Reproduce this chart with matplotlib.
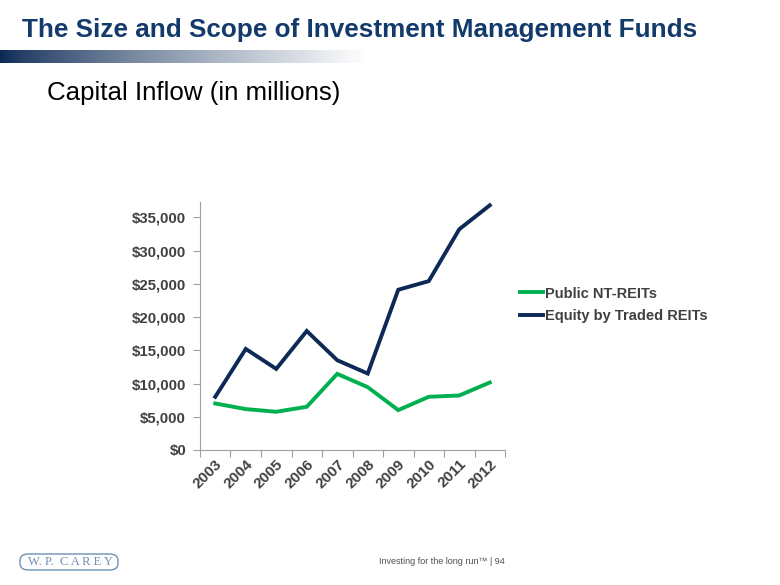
import numpy as np
import matplotlib.pyplot as plt
from matplotlib.patches import FancyBboxPatch

years = ["2003", "2004", "2005", "2006", "2007", "2008", "2009", "2010", "2011", "2012"]
nt_reits = [7000, 6150, 5750, 6500, 11450, 9450, 6000, 8000, 8200, 10150]
traded_reits = [8000, 15200, 12200, 17900, 13500, 11500, 24100, 25400, 33200, 36800]
yticks = [0, 5000, 10000, 15000, 20000, 25000, 30000, 35000]

green = "#00B050"
navy = "#0C2A55"
gray = "#404040"

plt.rcParams["font.family"] = ["Liberation Sans", "DejaVu Sans"]
fig = plt.figure(figsize=(7.8, 5.85), dpi=100)

# header gradient bar
bar = fig.add_axes([0, 1 - 63 / 585, 1, 13 / 585])
grad = np.linspace(0, 1, 256)
cols = np.zeros((1, 256, 3))
c0 = np.array([0x0C, 0x2A, 0x55]) / 255
for i, t in enumerate(grad):
    k = min(t / 0.47, 1.0) ** 0.8
    cols[0, i] = c0 * (1 - k) + np.ones(3) * k
bar.imshow(cols, aspect="auto", extent=[0, 1, 0, 1])
bar.axis("off")

fig.text(22 / 780, 1 - 30 / 585, "The Size and Scope of Investment Management Funds",
         fontsize=18.8, fontweight="bold", color="#123a6b", va="center", ha="left")
fig.text(47 / 780, 1 - 93 / 585, "Capital Inflow (in millions)",
         fontsize=18.6, color="black", va="center", ha="left")

ax = fig.add_axes([200 / 780, 1 - 450 / 585, 305 / 780, 248 / 585])
x = np.arange(len(years))
ax.plot(x, nt_reits, color=green, lw=2.8, label="Public NT-REITs", solid_joinstyle="miter")
ax.plot(x, traded_reits, color=navy, lw=2.8, label="Equity by Traded REITs", solid_joinstyle="miter")
ax.set_xlim(-0.5, len(years) - 0.5)
ax.set_ylim(0, 37300)
ax.set_yticks(yticks)
ax.set_yticklabels(["${:,}".format(v) for v in yticks], fontsize=10.8, fontweight="bold", color=gray)
ax.set_xticks(np.arange(len(years) + 1) - 0.5)
ax.set_xticklabels([])
ax.set_xticks(x, minor=True)
ax.set_xticklabels(years, minor=True, rotation=45, ha="right", rotation_mode="anchor",
                   fontsize=11, fontweight="bold", color=gray)
ax.tick_params(axis="x", which="major", length=5, color="#a0a0a0", direction="out")
ax.tick_params(axis="x", which="minor", length=0, pad=5)
ax.tick_params(axis="y", length=5, color="#a0a0a0", direction="out", pad=5)
for s in ["top", "right"]:
    ax.spines[s].set_visible(False)
for s in ["left", "bottom"]:
    ax.spines[s].set_color("#a0a0a0")

ax.legend(loc="center left", bbox_to_anchor=(1.005, 0.585), frameon=False,
          prop={"size": 10.5, "weight": "bold"}, labelcolor=gray,
          handlelength=1.6, handletextpad=0.15, labelspacing=0.6)

# footer
logo = FancyBboxPatch((20 / 780, 1 - 570 / 585), 98 / 780, 16 / 585,
                      boxstyle="round,pad=0,rounding_size=0.011",
                      transform=fig.transFigure, fill=False, ec="#6f8fb5", lw=1.0)
fig.add_artist(logo)
fig.text(70 / 780, 1 - 562 / 585, "W. P.  C A R E Y", fontsize=9, color="#6f8fb5",
         ha="center", va="center", family="Liberation Serif")
fig.text(505 / 780, 1 - 562 / 585, "Investing for the long run\u2122 | 94", fontsize=6.5,
         color="#505050", ha="right", va="center")

fig.savefig("out.png", dpi=100)
